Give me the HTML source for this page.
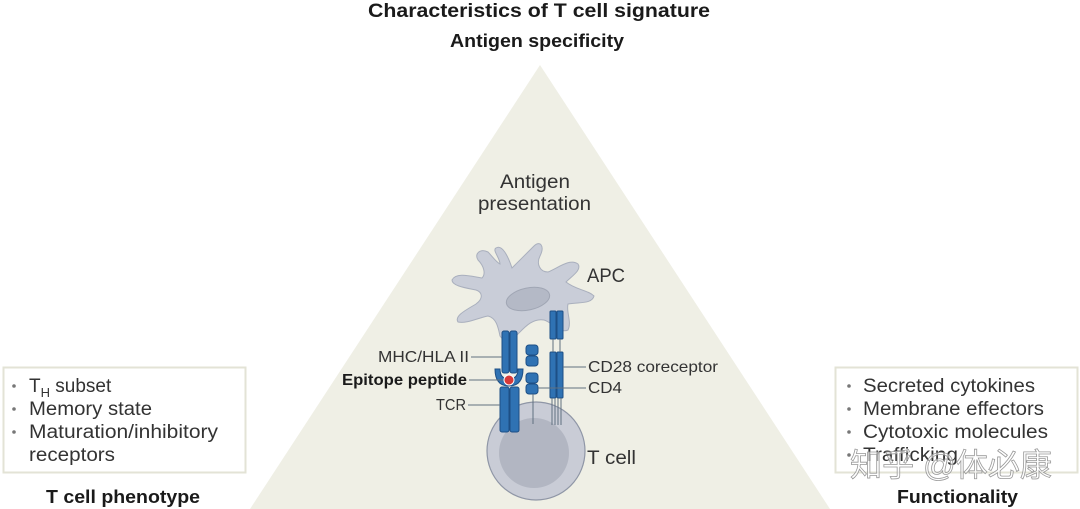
<!DOCTYPE html>
<html><head><meta charset="utf-8"><style>
html,body{margin:0;padding:0;background:#fff;}
svg{display:block;}
text{font-family:"Liberation Sans","Noto Sans CJK SC",sans-serif;}
</style></head><body>
<svg width="1080" height="509" viewBox="0 0 1080 509" xmlns="http://www.w3.org/2000/svg">
<rect width="1080" height="509" fill="#fff"/>
<text x="368" y="17" font-size="19" font-weight="bold" fill="#1a1a1a" textLength="342" lengthAdjust="spacingAndGlyphs">Characteristics of T cell signature</text>
<text x="450" y="47" font-size="18" font-weight="bold" fill="#1a1a1a" textLength="174" lengthAdjust="spacingAndGlyphs">Antigen specificity</text>
<polygon points="540,65 830,509 250,509" fill="#efefe5"/>
<text x="500" y="188" font-size="19" fill="#333" textLength="70" lengthAdjust="spacingAndGlyphs">Antigen</text>
<text x="478" y="210" font-size="19" fill="#333" textLength="113" lengthAdjust="spacingAndGlyphs">presentation</text>
<path d="M496,248 C502,244 508,256 512,268 C518,262 530,250 534,246 C540,240 545,246 540,256 C536,264 540,272 548,272 C558,268 570,258 578,264 C582,270 572,276 566,282 C576,290 588,290 594,296 C592,304 580,302 568,304 C566,312 572,322 568,330 C560,334 552,322 544,320 C532,318 524,328 516,336 C510,342 504,342 500,336 C498,326 496,318 488,316 C478,318 466,324 458,322 C454,316 466,310 476,304 C484,298 482,292 476,290 C466,288 452,286 452,280 C456,272 470,276 482,278 C486,274 484,266 478,260 C474,254 480,248 488,252 C492,256 496,262 500,264 C500,258 492,250 496,248 Z" fill="#c9cdd8" stroke="#a9afbd" stroke-width="1"/>
<ellipse cx="528" cy="299" rx="22" ry="11" transform="rotate(-12 528 299)" fill="#b4b9c6" stroke="#a0a6b4"/>
<circle cx="536" cy="451" r="49" fill="#c9ccd6" stroke="#8f96a6" stroke-width="1.2"/>
<circle cx="534" cy="453" r="35" fill="#b2b6c2"/>
<g fill="#2f72b3" stroke="#1d4f85" stroke-width="1">
<rect x="502" y="331" width="7" height="42" rx="2"/>
<rect x="510" y="331" width="7" height="42" rx="2"/>
<path d="M495,369 Q495,386 509,386 Q523,386 523,369 L518,369 Q518,379 509,379 Q500,379 500,369 Z"/>
<rect x="500" y="387" width="9" height="45" rx="2"/>
<rect x="510" y="387" width="9" height="45" rx="2"/>
<rect x="526" y="345" width="12" height="10" rx="3"/>
<rect x="526" y="356" width="12" height="10" rx="3"/>
<rect x="526" y="373" width="12" height="10" rx="3"/>
<rect x="526" y="384" width="12" height="10" rx="3"/>
<rect x="550" y="311" width="6" height="28" rx="1"/>
<rect x="557" y="311" width="6" height="28" rx="1"/>
<rect x="550" y="352" width="6" height="46" rx="1"/>
<rect x="557" y="352" width="6" height="46" rx="1"/>
</g>
<circle cx="509" cy="380" r="5" fill="#d63a3a" stroke="#fff" stroke-width="1"/>
<g stroke="#607080" stroke-width="1">
<line x1="533" y1="394" x2="533" y2="424"/>
<line x1="553" y1="339" x2="553" y2="352"/>
<line x1="560" y1="339" x2="560" y2="352"/>
<line x1="552" y1="398" x2="552" y2="425"/>
<line x1="555" y1="398" x2="555" y2="425"/>
<line x1="558" y1="398" x2="558" y2="425"/>
<line x1="561" y1="398" x2="561" y2="425"/>
<line x1="471" y1="357" x2="502" y2="357"/>
<line x1="469" y1="380" x2="503" y2="380"/>
<line x1="468" y1="405" x2="500" y2="405"/>
<line x1="563" y1="367" x2="586" y2="367"/>
<line x1="538" y1="388" x2="586" y2="388"/>
</g>
<g font-size="16" fill="#333">
<text x="378" y="362" textLength="91" lengthAdjust="spacingAndGlyphs">MHC/HLA II</text>
<text x="342" y="385" font-weight="bold" fill="#1a1a1a" textLength="125" lengthAdjust="spacingAndGlyphs">Epitope peptide</text>
<text x="436" y="410" textLength="30" lengthAdjust="spacingAndGlyphs">TCR</text>
<text x="588" y="372" textLength="130" lengthAdjust="spacingAndGlyphs">CD28 coreceptor</text>
<text x="588" y="393" textLength="34" lengthAdjust="spacingAndGlyphs">CD4</text>
</g>
<text x="587" y="282" font-size="19" fill="#333" textLength="38" lengthAdjust="spacingAndGlyphs">APC</text>
<text x="587" y="464" font-size="19" fill="#333" textLength="49" lengthAdjust="spacingAndGlyphs">T cell</text>
<rect x="3.5" y="367.5" width="242" height="105" fill="#fff" stroke="#e3e3d6" stroke-width="2"/>
<g font-size="19" fill="#333">
<circle cx="14" cy="386" r="1.8" fill="#777"/>
<text x="29" y="392">T<tspan font-size="13" dy="5">H</tspan><tspan dy="-5" font-size="19"> subset</tspan></text>
<circle cx="14" cy="409" r="1.8" fill="#777"/>
<text x="29" y="415" textLength="123" lengthAdjust="spacingAndGlyphs">Memory state</text>
<circle cx="14" cy="432" r="1.8" fill="#777"/>
<text x="29" y="438" textLength="189" lengthAdjust="spacingAndGlyphs">Maturation/inhibitory</text>
<text x="29" y="461" textLength="86" lengthAdjust="spacingAndGlyphs">receptors</text>
</g>
<text x="46" y="503" font-size="18" font-weight="bold" fill="#1a1a1a" textLength="154" lengthAdjust="spacingAndGlyphs">T cell phenotype</text>
<rect x="835.5" y="367.5" width="242" height="105" fill="#fff" stroke="#e3e3d6" stroke-width="2"/>
<g font-size="19" fill="#333">
<circle cx="849" cy="386" r="1.8" fill="#777"/>
<text x="863" y="392" textLength="172" lengthAdjust="spacingAndGlyphs">Secreted cytokines</text>
<circle cx="849" cy="409" r="1.8" fill="#777"/>
<text x="863" y="415" textLength="181" lengthAdjust="spacingAndGlyphs">Membrane effectors</text>
<circle cx="849" cy="432" r="1.8" fill="#777"/>
<text x="863" y="438" textLength="185" lengthAdjust="spacingAndGlyphs">Cytotoxic molecules</text>
<circle cx="849" cy="455" r="1.8" fill="#777"/>
<text x="863" y="461" textLength="95" lengthAdjust="spacingAndGlyphs">Trafficking</text>
</g>
<text x="850" y="476" font-size="32" fill="#fff" fill-opacity="0.55" stroke="#999" stroke-width="0.8" textLength="202" lengthAdjust="spacingAndGlyphs">知乎 @体必康</text>
<text x="897" y="503" font-size="18" font-weight="bold" fill="#1a1a1a" textLength="121" lengthAdjust="spacingAndGlyphs">Functionality</text>
</svg>
</body></html>
